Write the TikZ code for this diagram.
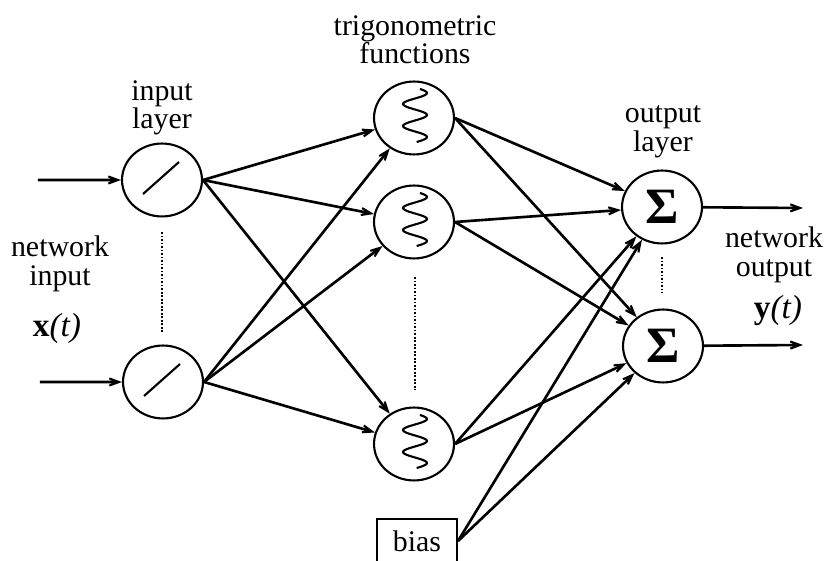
\documentclass[tikz,border=0pt]{standalone}
\usepackage{fontspec}
\setmainfont{Liberation Serif}
\usetikzlibrary{arrows.meta,shapes.geometric}
\tikzset{
	unit/.style={draw,ellipse,line width=1.2pt,minimum width=45.5pt,minimum height=41.5pt,inner sep=0pt},
	sumunit/.style={unit,font=\fontsize{29}{29}\selectfont\bfseries},
	conn/.style={line width=1.5pt,-{Stealth[length=15pt,width=11pt,inset=10.5pt]}},
	label/.style={align=center,font=\fontsize{17}{16.2}\selectfont},
	varlabel/.style={font=\fontsize{19}{19}\selectfont},
	layerdots/.style={dash pattern=on 1pt off 1pt,line width=1pt}
}
\begin{document}
\begin{tikzpicture}[scale=.2]
	\useasboundingbox (0,0) rectangle (82.5,56.1);
	\clip (0,0) rectangle (82.5,56.1);
	
	\node[unit] (in1) at (16.2,38.1) {};
	\node[unit] (in2) at (16.3,17.9) {};
	\node[unit] (tr1) at (41.4,44.3) {};
	\node[unit] (tr2) at (41.4,33.9) {};
	\node[unit] (tr3) at (41.4,11.7) {};
	\node[sumunit] (out1) at (66.2,35.4) {Σ};
	\node[sumunit] (out2) at (66.3,21.5) {Σ};
	\node[draw,line width=1.2pt,minimum width=45.5pt,minimum height=25pt,inner sep=0pt,font=\fontsize{17}{16}\selectfont] (bias) at (41.7,2) {bias};
	
	\coordinate (x1) at (3.8,38.1);
	\coordinate (x2) at (4,17.9);
	\coordinate (y1) at (80.3,35.3);
	\coordinate (y2) at (80.3,21.6);
	
	\draw[conn] (x1) -- (in1);
	\draw[conn] (x2) -- (in2);
	\draw[conn] (out1) -- (y1);
	\draw[conn] (out2) -- (y2);
	
	\foreach \a in {in1,in2}{
		\foreach \b in {tr1,tr2,tr3}{
			\draw[conn] (\a.east) -- (\b); }}
	\foreach \a in {tr1,tr2,tr3,bias}{
		\foreach \b in {out1,out2}{
			\draw[conn] (\a.east) -- (\b); }}
	
	%rampes
	\foreach \n in {in1,in2}{
		\draw[line width=1.2pt,shift={(\n)}] (-1.9,-1.4) -- (1.7,1.8); }
	%sinus
	\foreach \n in {tr1,tr2,tr3}{
		\draw[line width=1.2pt,shift={(\n)},domain=-2.4:2.9,samples=60,smooth] plot ({.1+1.2*cos((\x-.3)*360/2.2)},\x); }
	
	\coordinate (a1) at (16.2,32.9);
	\coordinate (a2) at (16.2,22.9);
	\coordinate (b1) at (41.5,28.4);
	\coordinate (b2) at (41.5,17.1);
	\coordinate (c1) at (66.2,30.4);
	\coordinate (c2) at (66.2,26.8);
	\draw[layerdots] (a1) -- (a2);
	\draw[layerdots] (b1) -- (b2);
	\draw[layerdots] (c1) -- (c2);
	
	\node[label] (trlabel) at (41.5,52.1) {trigonometric\\functions};
	\node[label] (inlabel) at (16.2,45.3) {input\\layer};
	\node[label] (outlabel) at (66.3,42.9) {output\\layer};
	\node[label] (netin) at (6,29.7) {network\\input};
	\node[varlabel] (xt) at (5.7,23.3) {\textbf{x}\textit{(t)}};
	\node[label] (netout) at (77.4,30.6) {network\\output};
	\node[varlabel] (yt) at (77.8,25) {\textbf{y}\textit{(t)}};
	
\end{tikzpicture}
\end{document}
